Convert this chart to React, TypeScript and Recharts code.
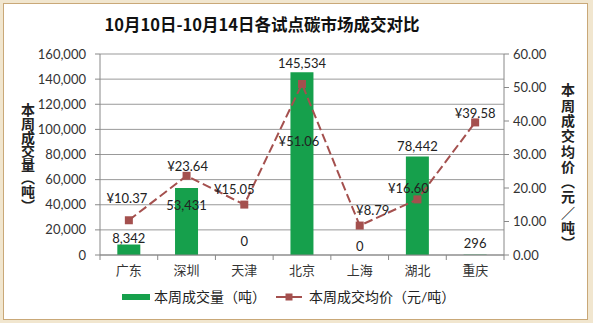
import React from "react";
import {
  ComposedChart,
  Bar,
  Line,
  XAxis,
  YAxis,
  CartesianGrid,
  Legend,
  LabelList,
} from "recharts";

const categories = ["广东", "深圳", "天津", "北京", "上海", "湖北", "重庆"];
const volumes = [8342, 53431, 0, 145534, 0, 78442, 296];
const prices = [10.37, 23.64, 15.05, 51.06, 8.79, 16.6, 39.58];
const leftTicks = [0, 20000, 40000, 60000, 80000, 100000, 120000, 140000, 160000];
const rightTicks = [0, 10, 20, 30, 40, 50, 60];

const title = "10月10日-10月14日各试点碳市场成交对比";
const volumeName = "本周成交量（吨）";
const priceName = "本周成交均价（元/吨）";
const leftAxisTitle = "本周成交量（吨）";
const rightAxisTitle = "本周成交均价（元／吨）";

// label placement tweaks (style only)
const priceLabelOffsets: [number, number][] = [
  [-2, -22], [1, -10], [-10, -16], [-3, 57], [13, -16], [-9, -11], [0, -9],
];
const volumeLabelOffsets: number[] = [-7, 17, -14, -9, -9, -10, -12];

const data = categories.map((c, i) => ({
  name: c,
  volume: volumes[i],
  price: prices[i],
}));

const FONT = "Lato, 'Noto Sans CJK SC', sans-serif";
const GREEN = "#16a04c";
const RED = "#a4504e";

const fmtInt = (v: number) => v.toLocaleString("en-US");

const PriceLabel = (props: any) => {
  const { x, y, index, value } = props;
  const [dx, dy] = priceLabelOffsets[index] || [0, -10];
  return (
    <text
      x={x + dx}
      y={y + dy}
      textAnchor="middle"
      dominantBaseline="central"
      fontSize={13}
      fill="#222"
      fontFamily={FONT}
    >
      {"¥" + Number(value).toFixed(2)}
    </text>
  );
};

const VolumeLabel = (props: any) => {
  const { x, y, index, value } = props;
  const dy = volumeLabelOffsets[index] ?? -8;
  return (
    <text
      x={x}
      y={y + dy}
      textAnchor="middle"
      dominantBaseline="central"
      fontSize={13}
      fill="#222"
      fontFamily={FONT}
    >
      {fmtInt(value)}
    </text>
  );
};

const VerticalLabel = ({ text, x, y0, spacing }: { text: string; x: number; y0: number; spacing: number }) => (
  <text
    x={x}
    y={y0}
    fontSize={14}
    fontWeight="bold"
    fill="#222"
    fontFamily="'Noto Sans CJK SC', sans-serif"
    style={{ writingMode: "vertical-rl" as any, letterSpacing: spacing }}
  >
    {text}
  </text>
);

const XTick = (props: any) => {
  const { x, y, payload, index, visibleTicksCount } = props;
  const band = 404 / categories.length;
  const isLast = index === (visibleTicksCount ?? categories.length) - 1;
  return (
    <g>
      <line x1={x - band / 2} y1={y - 8} x2={x - band / 2} y2={y - 3} stroke="#888" />
      {isLast && <line x1={x + band / 2} y1={y - 8} x2={x + band / 2} y2={y - 3} stroke="#888" />}
      <text x={x} y={y + 7} textAnchor="middle" dominantBaseline="central" fontSize={13} fill="#333" fontFamily={FONT}>
        {payload.value}
      </text>
    </g>
  );
};

const LegendContent = () => (
  <div style={{ position: "relative", width: 593, height: 24, fontFamily: FONT, fontSize: 14, color: "#222" }}>
    <div style={{ position: "absolute", left: 122, top: 9, width: 28, height: 6, background: GREEN }} />
    <div style={{ position: "absolute", left: 154, top: 2, lineHeight: "20px" }}>{volumeName}</div>
    <svg style={{ position: "absolute", left: 276, top: 5 }} width={26} height={14}>
      <line x1={0} y1={7} x2={26} y2={7} stroke={RED} strokeWidth={2} />
      <rect x={9.5} y={3.5} width={7} height={7} fill={RED} />
    </svg>
    <div style={{ position: "absolute", left: 309, top: 2, lineHeight: "20px" }}>{priceName}</div>
  </div>
);

export default function App() {
  return (
    <div style={{ position: "absolute", left: 0, top: 0, width: 593, height: 323, background: "#f1e6cf" }}>
      <div
        style={{
          position: "absolute",
          left: 3,
          top: 3,
          width: 583,
          height: 315,
          background: "#fff",
          border: "1px solid #c9a878",
        }}
      />
      <div
        style={{
          position: "absolute",
          left: 0,
          top: 12,
          width: 524,
          textAlign: "center",
          fontFamily: "'Noto Sans CJK SC', sans-serif",
          fontWeight: "bold",
          fontSize: 16.5,
          color: "#111",
          lineHeight: "24px",
        }}
      >
        {title}
      </div>
      <div style={{ position: "absolute", left: 0, top: 0 }}>
        <ComposedChart
          width={593}
          height={323}
          data={data}
          margin={{ top: 54, right: 0, left: 0, bottom: 14 }}
          barCategoryGap="30%"
        >
          <CartesianGrid vertical={false} stroke="#999" strokeWidth={1} yAxisId="left" />
          <XAxis
            dataKey="name"
            axisLine={{ stroke: "#888" }}
            tickLine={false}
            height={30}
            tick={<XTick />}
            interval={0}
          />
          <YAxis
            yAxisId="left"
            width={100}
            domain={[0, 160000]}
            ticks={leftTicks}
            tickFormatter={fmtInt}
            axisLine={{ stroke: "#888" }}
            tickLine={{ stroke: "#888" }}
            tickSize={5}
            tickMargin={9}
            tick={{ fontSize: 13, fill: "#333", fontFamily: FONT }}
            interval={0}
            label={() => <VerticalLabel text={leftAxisTitle} x={28} y0={103} spacing={-0.4} />}
          />
          <YAxis
            yAxisId="right"
            orientation="right"
            width={89}
            domain={[0, 60]}
            ticks={rightTicks}
            tickFormatter={(v: number) => v.toFixed(2)}
            axisLine={{ stroke: "#888" }}
            tickLine={{ stroke: "#888" }}
            tickSize={5}
            tickMargin={4}
            tick={{ fontSize: 13, fill: "#333", fontFamily: FONT }}
            interval={0}
            label={() => <VerticalLabel text={rightAxisTitle} x={568} y0={83} spacing={1.3} />}
          />
          <Legend verticalAlign="bottom" height={24} content={<LegendContent />} />
          <Bar yAxisId="left" dataKey="volume" name={volumeName} fill={GREEN} isAnimationActive={false} />
          <Line
            yAxisId="left"
            dataKey="volume"
            stroke="none"
            dot={false}
            activeDot={false}
            legendType="none"
            isAnimationActive={false}
          >
            <LabelList dataKey="volume" content={<VolumeLabel />} />
          </Line>
          <Line
            yAxisId="right"
            dataKey="price"
            name={priceName}
            stroke={RED}
            strokeWidth={2}
            strokeDasharray="9 4"
            isAnimationActive={false}
            dot={(p: any) => <rect key={p.index} x={p.cx - 4} y={p.cy - 4} width={8} height={8} fill={RED} />}
            activeDot={false}
          >
            <LabelList dataKey="price" content={<PriceLabel />} />
          </Line>
        </ComposedChart>
      </div>
    </div>
  );
}
